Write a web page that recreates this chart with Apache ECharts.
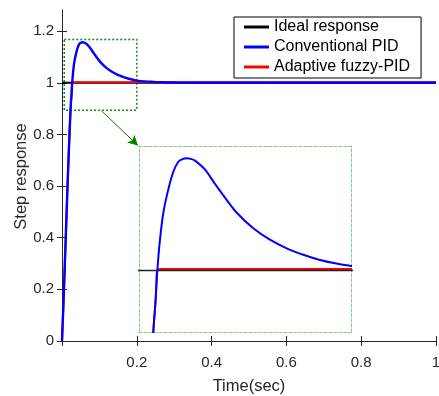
<!DOCTYPE html>
<html>
<head>
<meta charset="utf-8">
<script src="https://cdn.jsdelivr.net/npm/echarts@6/dist/echarts.min.js"></script>
<style>html,body{margin:0;padding:0;background:#fff}#c{width:439px;height:396px}</style>
</head>
<body>
<div id="c"></div>
<script>
// ---- data ----
const timeConventional = [0, 0.005, 0.010, 0.015, 0.020, 0.0235, 0.0257, 0.0273, 0.0298, 0.0329,
  0.0376, 0.0424, 0.0471, 0.051, 0.055, 0.059, 0.0628, 0.0723, 0.0817, 0.092, 0.102, 0.1178,
  0.1335, 0.1493, 0.165, 0.1808, 0.195, 0.21, 0.24, 0.27, 0.30, 0.35,
  0.40, 0.50, 0.60, 0.70, 0.80, 0.90, 1.00];
const conventionalPID = [0, 0.19, 0.40, 0.61, 0.80, 0.914, 0.959, 1.000, 1.043, 1.080,
  1.113, 1.138, 1.152, 1.1556, 1.157, 1.156, 1.1536, 1.141, 1.121, 1.100, 1.081, 1.059,
  1.043, 1.031, 1.022, 1.0147, 1.010, 1.0063, 1.004, 1.002, 1.001, 1.0,
  1.0, 1.0, 1.0, 1.0, 1.0, 1.0, 1.0];
const timeFuzzy = [0, 0.005, 0.010, 0.015, 0.020, 0.0235, 0.0257, 0.0264, 0.0272, 0.030, 1.0];
const fuzzyPID  = [0, 0.19, 0.40, 0.61, 0.80, 0.914, 0.959, 0.985, 1.0, 1.002, 1.002];
const timeIdeal = [0, 1];
const idealResponse = [1, 1];

const xTicks = [0, 0.2, 0.4, 0.6, 0.8, 1];
const xTickLabels = [0.2, 0.4, 0.6, 0.8, 1];
const yTicks = [0, 0.2, 0.4, 0.6, 0.8, 1, 1.2];
const mainXRange = [0, 1];
const mainYRange = [-0.008, 1.282];
const insetXRange = [0.01, 0.21];
const insetYRange = [0.914, 1.174];
const zoomBoxT = [0.006, 0.2];
const zoomBoxV = [0.894, 1.168];
const arrowFrom = [0.106, 0.891];
const arrowTo = [0.203, 0.757];

const names = ['Ideal response', 'Conventional PID', 'Adaptive fuzzy-PID'];
const pair = (ts, vs) => ts.map((t, i) => [t, vs[i]]);

const FONT = 'Liberation Sans';
const AX = '#262626';
const GREEN_LIGHT = '#7ccf7c';
const SMOOTH = 0.3;

const chart = echarts.init(document.getElementById('c'), null, {renderer: 'canvas'});

const boxAxisLine = {show: true, lineStyle: {color: AX, width: 1}};
const insetLine = {show: true, lineStyle: {color: GREEN_LIGHT, width: 1, type: [3, 2]}};

const option = {
  animation: false,
  backgroundColor: '#fff',
  grid: [
    {left: 62, top: 10, width: 374, height: 333, containLabel: false, outerBoundsMode: 'none'},
    {left: 139, top: 146, width: 212, height: 186, containLabel: false, outerBoundsMode: 'none'}
  ],
  legend: {
    data: names,
    orient: 'vertical',
    left: 234, top: 17,
    icon: 'rect', itemWidth: 25, itemHeight: 3,
    itemGap: 4,
    padding: [2, 11, 3, 10],
    backgroundColor: '#fff', borderColor: '#000', borderWidth: 1,
    textStyle: {fontFamily: FONT, fontSize: 16, color: '#000', lineHeight: 16},
    selectedMode: false
  },
  xAxis: [
    {gridIndex: 0, type: 'value', position: 'bottom', min: mainXRange[0], max: mainXRange[1],
     name: 'Time(sec)', nameLocation: 'middle', nameGap: 35, nameMoveOverlap: false,
     nameTextStyle: {fontFamily: FONT, fontSize: 16.5, color: AX},
     axisLine: boxAxisLine,
     axisTick: {show: true, inside: true, length: 5, customValues: xTicks, lineStyle: {color: AX}},
     axisLabel: {show: true, customValues: xTickLabels, margin: 12, fontFamily: FONT, fontSize: 15, color: AX,
       formatter: v => String(v)},
     splitLine: {show: false}},
    {gridIndex: 0, type: 'value', position: 'top', min: mainXRange[0], max: mainXRange[1],
     axisLine: boxAxisLine,
     axisTick: {show: true, inside: true, length: 5, customValues: xTicks, lineStyle: {color: AX}},
     axisLabel: {show: false}, splitLine: {show: false}},
    {gridIndex: 1, type: 'value', position: 'bottom', min: insetXRange[0], max: insetXRange[1],
     axisLine: insetLine, axisTick: {show: false}, axisLabel: {show: false}, splitLine: {show: false}},
    {gridIndex: 1, type: 'value', position: 'top', min: insetXRange[0], max: insetXRange[1],
     axisLine: insetLine, axisTick: {show: false}, axisLabel: {show: false}, splitLine: {show: false}}
  ],
  yAxis: [
    {gridIndex: 0, type: 'value', position: 'left', min: mainYRange[0], max: mainYRange[1],
     name: 'Step response', nameLocation: 'middle', nameGap: 32, nameMoveOverlap: false,
     nameTextStyle: {fontFamily: FONT, fontSize: 16.5, color: AX},
     axisLine: boxAxisLine,
     axisTick: {show: true, inside: true, length: 5, customValues: yTicks, lineStyle: {color: AX}},
     axisLabel: {show: true, customValues: yTicks, margin: 8, fontFamily: FONT, fontSize: 15, color: AX,
       formatter: v => String(v)},
     splitLine: {show: false}},
    {gridIndex: 0, type: 'value', position: 'right', min: mainYRange[0], max: mainYRange[1],
     axisLine: boxAxisLine,
     axisTick: {show: true, inside: true, length: 5, customValues: yTicks, lineStyle: {color: AX}},
     axisLabel: {show: false}, splitLine: {show: false}},
    {gridIndex: 1, type: 'value', position: 'left', min: insetYRange[0], max: insetYRange[1],
     axisLine: insetLine, axisTick: {show: false}, axisLabel: {show: false}, splitLine: {show: false}},
    {gridIndex: 1, type: 'value', position: 'right', min: insetYRange[0], max: insetYRange[1],
     axisLine: insetLine, axisTick: {show: false}, axisLabel: {show: false}, splitLine: {show: false}}
  ],
  series: [
    // main plot
    {name: names[0], type: 'line', xAxisIndex: 0, yAxisIndex: 0, data: pair(timeIdeal, idealResponse),
     showSymbol: false, symbol: 'none', color: '#000', lineStyle: {color: '#000', width: 2}, z: 2,
     markArea: {silent: true, itemStyle: {color: 'rgba(0,0,0,0)', borderColor: '#138a13', borderWidth: 1.5, borderType: [2, 2]},
       data: [[{coord: [zoomBoxT[0], zoomBoxV[1]]}, {coord: [zoomBoxT[1], zoomBoxV[0]]}]]},
     markLine: {silent: true, symbol: ['none', 'arrow'], symbolSize: [8, 10], label: {show: false},
       lineStyle: {color: '#008000', width: 1, type: 'solid'},
       data: [[{coord: arrowFrom}, {coord: arrowTo}]]}},
    {name: names[2], type: 'line', xAxisIndex: 0, yAxisIndex: 0, data: pair(timeFuzzy, fuzzyPID),
     showSymbol: false, symbol: 'none', color: '#f00', lineStyle: {color: '#f00', width: 2}, z: 3,
     smooth: SMOOTH},
    {name: names[1], type: 'line', xAxisIndex: 0, yAxisIndex: 0, data: pair(timeConventional, conventionalPID),
     showSymbol: false, symbol: 'none', color: '#00f', lineStyle: {color: '#00f', width: 2.4}, z: 4,
     smooth: SMOOTH},
    // inset
    {name: names[2], type: 'line', xAxisIndex: 2, yAxisIndex: 2, data: pair(timeFuzzy, fuzzyPID),
     showSymbol: false, symbol: 'none', color: '#f00', lineStyle: {color: '#f00', width: 2}, z: 2,
     smooth: SMOOTH},
    {name: names[0], type: 'line', xAxisIndex: 2, yAxisIndex: 2, data: pair(timeIdeal, idealResponse),
     showSymbol: false, symbol: 'none', color: '#000', lineStyle: {color: '#222', width: 1.5}, z: 3},
    {name: names[1], type: 'line', xAxisIndex: 2, yAxisIndex: 2, data: pair(timeConventional, conventionalPID),
     showSymbol: false, symbol: 'none', color: '#00f', lineStyle: {color: '#00f', width: 2}, z: 4,
     smooth: SMOOTH}
  ]
};
chart.setOption(option);
</script>
</body>
</html>
